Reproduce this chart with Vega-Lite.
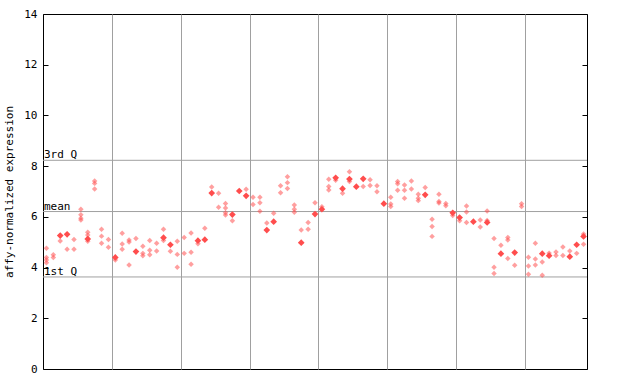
{
 "$schema": "https://vega.github.io/schema/vega-lite/v6.json",
 "width": 544, "height": 355,
 "autosize": "none",
 "padding": {"left": 43, "top": 14, "right": 53, "bottom": 15},
 "background": "white",
 "config": {"view": {"stroke": "#000", "strokeWidth": 1}, "font": "DejaVu Sans Mono"},
 "datasets": {
  "stats": [{"name": "3rd Q", "v": 8.23}, {"name": "mean", "v": 6.21}, {"name": "1st Q", "v": 3.63}],
  "pts": [
   {"c":1,"v":4.76,"t":"h"},{"c":1,"v":4.40,"t":"h"},{"c":1,"v":4.30,"t":"h"},{"c":1,"v":4.19,"t":"h"},
   {"c":2,"v":4.51,"t":"h"},{"c":2,"v":4.40,"t":"h"},
   {"c":3,"v":5.26,"t":"f"},{"c":3,"v":5.05,"t":"h"},
   {"c":4,"v":5.31,"t":"f"},{"c":4,"v":4.72,"t":"h"},
   {"c":5,"v":5.11,"t":"h"},{"c":5,"v":4.72,"t":"h"},
   {"c":6,"v":6.30,"t":"h"},{"c":6,"v":6.08,"t":"h"},{"c":6,"v":5.95,"t":"h"},{"c":6,"v":5.88,"t":"h"},
   {"c":7,"v":5.39,"t":"h"},{"c":7,"v":5.28,"t":"h"},{"c":7,"v":5.13,"t":"f"},{"c":7,"v":5.04,"t":"h"},
   {"c":8,"v":7.41,"t":"h"},{"c":8,"v":7.32,"t":"h"},{"c":8,"v":7.10,"t":"h"},
   {"c":9,"v":5.51,"t":"h"},{"c":9,"v":5.24,"t":"h"},{"c":9,"v":4.96,"t":"h"},
   {"c":10,"v":5.11,"t":"h"},{"c":10,"v":4.80,"t":"h"},
   {"c":11,"v":4.40,"t":"f"},{"c":11,"v":4.30,"t":"h"},
   {"c":12,"v":5.35,"t":"h"},{"c":12,"v":4.93,"t":"h"},{"c":12,"v":4.72,"t":"h"},
   {"c":13,"v":5.09,"t":"h"},{"c":13,"v":5.01,"t":"h"},{"c":13,"v":4.10,"t":"h"},
   {"c":14,"v":5.15,"t":"h"},{"c":14,"v":4.63,"t":"f"},
   {"c":15,"v":4.84,"t":"h"},{"c":15,"v":4.56,"t":"h"},{"c":15,"v":4.47,"t":"h"},
   {"c":16,"v":5.07,"t":"h"},{"c":16,"v":4.68,"t":"h"},{"c":16,"v":4.51,"t":"h"},
   {"c":17,"v":4.96,"t":"h"},{"c":17,"v":4.65,"t":"h"},
   {"c":18,"v":5.51,"t":"h"},{"c":18,"v":5.18,"t":"f"},{"c":18,"v":5.07,"t":"h"},
   {"c":19,"v":4.90,"t":"f"},{"c":19,"v":4.64,"t":"h"},
   {"c":20,"v":5.04,"t":"h"},{"c":20,"v":4.52,"t":"h"},{"c":20,"v":4.01,"t":"h"},
   {"c":21,"v":5.19,"t":"h"},{"c":21,"v":4.56,"t":"h"},
   {"c":22,"v":5.36,"t":"h"},{"c":22,"v":4.60,"t":"h"},{"c":22,"v":4.13,"t":"h"},
   {"c":23,"v":5.06,"t":"f"},{"c":23,"v":4.94,"t":"h"},
   {"c":24,"v":5.55,"t":"h"},{"c":24,"v":5.10,"t":"f"},
   {"c":25,"v":7.18,"t":"h"},{"c":25,"v":6.94,"t":"f"},
   {"c":26,"v":6.93,"t":"h"},{"c":26,"v":6.38,"t":"h"},
   {"c":27,"v":6.53,"t":"h"},{"c":27,"v":6.35,"t":"h"},{"c":27,"v":6.16,"t":"h"},{"c":27,"v":6.07,"t":"h"},
   {"c":28,"v":6.09,"t":"f"},{"c":28,"v":5.85,"t":"h"},
   {"c":29,"v":7.02,"t":"f"},
   {"c":30,"v":7.09,"t":"h"},{"c":30,"v":6.83,"t":"f"},
   {"c":31,"v":6.77,"t":"h"},{"c":31,"v":6.49,"t":"h"},
   {"c":32,"v":6.77,"t":"h"},{"c":32,"v":6.56,"t":"h"},{"c":32,"v":6.22,"t":"h"},
   {"c":33,"v":5.76,"t":"h"},{"c":33,"v":5.48,"t":"f"},
   {"c":34,"v":6.14,"t":"h"},{"c":34,"v":5.81,"t":"f"},
   {"c":35,"v":7.23,"t":"h"},{"c":35,"v":6.95,"t":"h"},
   {"c":36,"v":7.58,"t":"h"},{"c":36,"v":7.35,"t":"h"},{"c":36,"v":7.12,"t":"h"},
   {"c":37,"v":6.47,"t":"h"},{"c":37,"v":6.30,"t":"h"},{"c":37,"v":6.18,"t":"h"},
   {"c":38,"v":5.48,"t":"h"},{"c":38,"v":4.98,"t":"f"},
   {"c":39,"v":5.78,"t":"h"},{"c":39,"v":5.51,"t":"h"},
   {"c":40,"v":6.56,"t":"h"},{"c":40,"v":6.11,"t":"f"},
   {"c":41,"v":6.40,"t":"h"},{"c":41,"v":6.30,"t":"f"},
   {"c":42,"v":7.48,"t":"h"},{"c":42,"v":7.20,"t":"h"},{"c":42,"v":7.06,"t":"h"},
   {"c":43,"v":7.54,"t":"f"},{"c":43,"v":7.44,"t":"h"},
   {"c":44,"v":7.11,"t":"f"},{"c":44,"v":6.93,"t":"h"},
   {"c":45,"v":7.78,"t":"h"},{"c":45,"v":7.49,"t":"f"},{"c":45,"v":7.39,"t":"h"},
   {"c":46,"v":7.19,"t":"f"},
   {"c":47,"v":7.50,"t":"f"},{"c":47,"v":7.20,"t":"h"},
   {"c":48,"v":7.46,"t":"h"},{"c":48,"v":7.24,"t":"h"},
   {"c":49,"v":7.23,"t":"h"},{"c":49,"v":6.99,"t":"h"},
   {"c":50,"v":6.52,"t":"f"},
   {"c":51,"v":6.77,"t":"h"},{"c":51,"v":6.51,"t":"h"},{"c":51,"v":6.41,"t":"h"},
   {"c":52,"v":7.39,"t":"h"},{"c":52,"v":7.31,"t":"h"},{"c":52,"v":7.05,"t":"h"},
   {"c":53,"v":7.26,"t":"h"},{"c":53,"v":7.05,"t":"h"},{"c":53,"v":6.73,"t":"h"},
   {"c":54,"v":7.41,"t":"h"},{"c":54,"v":7.10,"t":"h"},
   {"c":55,"v":6.89,"t":"h"},{"c":55,"v":6.73,"t":"h"},{"c":55,"v":6.64,"t":"h"},
   {"c":56,"v":7.16,"t":"h"},{"c":56,"v":6.87,"t":"f"},
   {"c":57,"v":5.91,"t":"h"},{"c":57,"v":5.62,"t":"h"},{"c":57,"v":5.23,"t":"h"},
   {"c":58,"v":6.89,"t":"h"},{"c":58,"v":6.61,"t":"h"},{"c":58,"v":6.55,"t":"h"},
   {"c":59,"v":6.53,"t":"h"},{"c":59,"v":6.44,"t":"h"},
   {"c":60,"v":6.16,"t":"f"},{"c":60,"v":6.05,"t":"h"},
   {"c":61,"v":5.97,"t":"f"},{"c":61,"v":5.85,"t":"h"},
   {"c":62,"v":6.43,"t":"h"},{"c":62,"v":6.19,"t":"h"},{"c":62,"v":5.78,"t":"h"},
   {"c":63,"v":5.81,"t":"f"},
   {"c":64,"v":5.88,"t":"h"},{"c":64,"v":5.60,"t":"h"},
   {"c":65,"v":6.23,"t":"h"},{"c":65,"v":5.86,"t":"h"},{"c":65,"v":5.78,"t":"f"},
   {"c":66,"v":5.15,"t":"h"},{"c":66,"v":4.01,"t":"h"},{"c":66,"v":3.77,"t":"h"},
   {"c":67,"v":4.88,"t":"h"},{"c":67,"v":4.55,"t":"f"},
   {"c":68,"v":5.19,"t":"h"},{"c":68,"v":5.09,"t":"h"},{"c":68,"v":4.36,"t":"h"},
   {"c":69,"v":4.59,"t":"f"},{"c":69,"v":4.09,"t":"h"},
   {"c":70,"v":6.52,"t":"h"},{"c":70,"v":6.41,"t":"h"},
   {"c":71,"v":4.41,"t":"h"},{"c":71,"v":4.06,"t":"h"},{"c":71,"v":3.74,"t":"h"},
   {"c":72,"v":4.96,"t":"h"},{"c":72,"v":4.34,"t":"h"},{"c":72,"v":4.10,"t":"h"},
   {"c":73,"v":4.55,"t":"f"},{"c":73,"v":4.22,"t":"h"},{"c":73,"v":3.70,"t":"h"},
   {"c":74,"v":4.47,"t":"f"},{"c":74,"v":4.57,"t":"h"},
   {"c":75,"v":4.61,"t":"h"},{"c":75,"v":4.48,"t":"h"},
   {"c":76,"v":4.81,"t":"h"},{"c":76,"v":4.48,"t":"h"},
   {"c":77,"v":4.65,"t":"h"},{"c":77,"v":4.43,"t":"f"},
   {"c":78,"v":4.90,"t":"f"},{"c":78,"v":4.56,"t":"h"},
   {"c":79,"v":5.32,"t":"h"},{"c":79,"v":5.23,"t":"f"},{"c":79,"v":4.92,"t":"h"}
  ]
 },
 "resolve": {"axis": {"y": "independent"}},
 "layer": [
  {
   "data": {"name": "stats"},
   "mark": {"type": "rule", "color": "#a0a0a0", "strokeWidth": 1},
   "encoding": {
    "y": {"field": "v", "type": "quantitative", "scale": {"domain": [0, 14], "nice": false},
          "axis": {"orient": "right", "values": [0,2,4,6,8,10,12,14], "labels": false, "ticks": true, "tickSize": -5, "tickColor": "#000", "domain": false, "grid": false, "title": null}}
   }
  },
  {
   "data": {"name": "stats"},
   "mark": {"type": "text", "align": "left", "baseline": "alphabetic", "dx": 1, "dy": -2, "font": "DejaVu Sans Mono", "fontSize": 11, "color": "#000"},
   "encoding": {
    "x": {"datum": 0.5, "type": "quantitative"},
    "y": {"field": "v", "type": "quantitative", "axis": null},
    "text": {"field": "name"}
   }
  },
  {
   "data": {"name": "pts"},
   "transform": [{"filter": "datum.t === 'h'"}],
   "mark": {"type": "point", "shape": "diamond", "filled": true, "size": 30, "color": "#ff5050", "opacity": 0.55},
   "encoding": {
    "x": {"field": "c", "type": "quantitative", "scale": {"domain": [0.5, 79.5], "nice": false, "zero": false},
          "axis": {"values": [10.5,20.5,30.5,40.5,50.5,60.5,70.5], "grid": true, "gridColor": "#a0a0a0", "gridWidth": 1, "labels": false, "ticks": false, "domain": false, "title": null}},
    "y": {"field": "v", "type": "quantitative",
          "axis": {"orient": "left", "values": [0,2,4,6,8,10,12,14], "grid": false, "domain": false, "ticks": true, "tickSize": -5, "tickColor": "#000", "labelPadding": 11, "labelFont": "DejaVu Sans Mono", "labelFontSize": 11, "labelColor": "#000", "title": "affy-normalized expression", "titleFont": "DejaVu Sans Mono", "titleFontSize": 11, "titleFontWeight": "normal", "titleColor": "#000", "titlePadding": 9}}
   }
  },
  {
   "data": {"name": "pts"},
   "transform": [{"filter": "datum.t === 'f'"}],
   "mark": {"type": "point", "shape": "diamond", "filled": true, "size": 45, "color": "#ff4d4d", "opacity": 1},
   "encoding": {
    "x": {"field": "c", "type": "quantitative"},
    "y": {"field": "v", "type": "quantitative", "axis": null}
   }
  }
 ]
}
